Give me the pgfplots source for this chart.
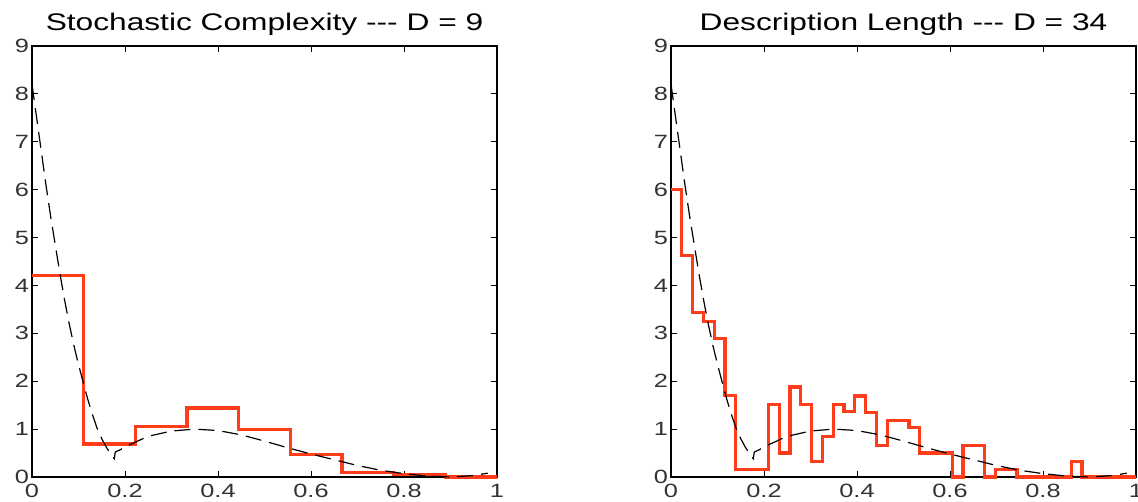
\documentclass[border=0pt]{standalone}
\usepackage{fontspec}
\setmainfont{Liberation Sans}[FakeStretch=1.32]
\usepackage{pgfplots}
\pgfplotsset{compat=1.18}
\definecolor{histred}{RGB}{255,61,26}
\pgfplotsset{myax/.style={
  scale only axis, width=232.5pt, height=215.5pt,
  xmin=0, xmax=1, ymin=0, ymax=9,
  xtick={0,0.2,0.4,0.6,0.8,1}, ytick={0,1,2,3,4,5,6,7,8,9},
  tick align=inside, major tick length=3pt,
  tick style={black, line width=0.5pt},
  axis line style={black, line width=0.6pt},
  ticklabel style={font=\fontsize{9.6}{10}\selectfont, text=black!80},
  yticklabel style={xshift=2pt},
  /pgf/number format/assume math mode=true,
  title style={font=\fontsize{12}{14}\selectfont, yshift=-4.5pt},
  clip=false,
}}
\begin{document}
\begin{tikzpicture}
\useasboundingbox (-16pt,-12.5pt) rectangle (553pt,238.5pt);
\begin{axis}[myax, at={(0pt,0pt)}, anchor=south west,
  title={Stochastic Complexity -{}-{}- D = 9}]
\addplot[histred, line width=1.6pt, const plot] coordinates {
(0,4.2) (0.11111,0.69) (0.22222,1.05) (0.33333,1.44) (0.44444,0.99)
(0.55556,0.47) (0.66667,0.10) (0.77778,0.055) (0.88889,0) (1,0)};
\addplot[black, line width=0.6pt, dash pattern=on 8pt off 4pt] coordinates {
(0,8.2) (0.01,7.5) (0.02,6.8) (0.03,6.1) (0.04,5.45) (0.05,4.85) (0.06,4.25)
(0.07,3.7) (0.08,3.2) (0.09,2.75) (0.10,2.35) (0.11,1.98) (0.12,1.62)
(0.13,1.3) (0.14,1.02) (0.15,0.8) (0.16,0.62) (0.17,0.47) (0.177,0.38)
(0.179,0.52) (0.19,0.57) (0.2,0.63) (0.25,0.85) (0.3,0.96) (0.35,1.0)
(0.4,0.97) (0.45,0.88) (0.5,0.75) (0.55,0.61) (0.6,0.48) (0.65,0.36)
(0.7,0.24) (0.75,0.14) (0.8,0.07) (0.85,0.02) (0.9,0.0) (0.95,0.03) (0.98,0.08)};
\end{axis}
\begin{axis}[myax, at={(319.5pt,0pt)}, anchor=south west,
  title={Description Length -{}-{}- D = 34}]
\addplot[histred, line width=1.6pt, const plot] coordinates {
(0,6.0) (0.02326,4.62) (0.04651,3.43) (0.06977,3.25) (0.09302,2.9)
(0.11628,1.70) (0.13953,0.15) (0.20930,1.52) (0.23256,0.50) (0.25581,1.88)
(0.27907,1.52) (0.30233,0.33) (0.32558,0.85) (0.34884,1.52) (0.37209,1.36)
(0.39535,1.69) (0.41860,1.35) (0.44186,0.66) (0.46512,1.18) (0.51163,1.04)
(0.53488,0.5) (0.60465,0) (0.62791,0.66) (0.67442,0) (0.69767,0.15)
(0.74419,0) (0.86047,0.33) (0.88372,0) (1,0)};
\addplot[black, line width=0.6pt, dash pattern=on 8pt off 4pt] coordinates {
(0,8.2) (0.01,7.5) (0.02,6.8) (0.03,6.1) (0.04,5.45) (0.05,4.85) (0.06,4.25)
(0.07,3.7) (0.08,3.2) (0.09,2.75) (0.10,2.35) (0.11,1.98) (0.12,1.62)
(0.13,1.3) (0.14,1.02) (0.15,0.8) (0.16,0.62) (0.17,0.47) (0.177,0.38)
(0.179,0.52) (0.19,0.57) (0.2,0.63) (0.25,0.85) (0.3,0.96) (0.35,1.0)
(0.4,0.97) (0.45,0.88) (0.5,0.75) (0.55,0.61) (0.6,0.48) (0.65,0.36)
(0.7,0.24) (0.75,0.14) (0.8,0.07) (0.85,0.02) (0.9,0.0) (0.95,0.03) (0.98,0.08)};
\end{axis}
\end{tikzpicture}
\end{document}
